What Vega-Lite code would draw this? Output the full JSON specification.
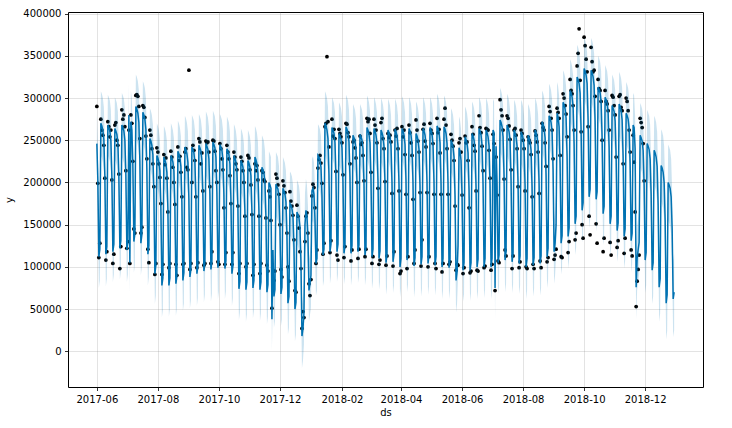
{
"$schema": "https://vega.github.io/schema/vega-lite/v6.json",
"width": 635,
"height": 375,
"autosize": {"type": "none"},
"padding": {"left": 68, "top": 12, "right": 29, "bottom": 41},
"background": "white",
"config": {
  "font": "DejaVu Sans",
  "view": {"stroke": "#000", "strokeWidth": 1},
  "axis": {"labelFont": "DejaVu Sans", "titleFont": "DejaVu Sans", "labelFontSize": 10, "titleFontSize": 10, "titleFontWeight": "normal", "labelColor": "#000", "titleColor": "#000", "tickColor": "#000", "tickSize": 3.5, "tickWidth": 0.8, "domain": false, "gridColor": "#808080", "gridOpacity": 0.22, "gridWidth": 1, "labelOverlap": false, "labelFlush": false}
},
"data": {"values": [
{"ds":"2017-06-01","yhat":246000,"lo":209000,"hi":283000,"y":290000},
{"ds":"2017-06-02","yhat":203000,"lo":166000,"hi":240000,"y":199000},
{"ds":"2017-06-03","yhat":112000,"lo":75000,"hi":149000,"y":111000},
{"ds":"2017-06-04","yhat":121000,"lo":84000,"hi":158000,"y":128000},
{"ds":"2017-06-05","yhat":270000,"lo":232000,"hi":308000,"y":275000},
{"ds":"2017-06-06","yhat":267000,"lo":229000,"hi":305000,"y":262000},
{"ds":"2017-06-07","yhat":262000,"lo":224000,"hi":300000,"y":256000},
{"ds":"2017-06-08","yhat":251000,"lo":213000,"hi":289000,"y":244000},
{"ds":"2017-06-09","yhat":208000,"lo":170000,"hi":246000,"y":205000},
{"ds":"2017-06-10","yhat":115000,"lo":77000,"hi":153000,"y":108000},
{"ds":"2017-06-11","yhat":124000,"lo":86000,"hi":162000,"y":118000},
{"ds":"2017-06-12","yhat":268000,"lo":232000,"hi":304000,"y":272000},
{"ds":"2017-06-13","yhat":265000,"lo":229000,"hi":301000,"y":266000},
{"ds":"2017-06-14","yhat":261000,"lo":225000,"hi":297000,"y":254000},
{"ds":"2017-06-15","yhat":250000,"lo":214000,"hi":286000,"y":262000},
{"ds":"2017-06-16","yhat":208000,"lo":172000,"hi":244000,"y":203000},
{"ds":"2017-06-17","yhat":118000,"lo":82000,"hi":154000,"y":104000},
{"ds":"2017-06-18","yhat":127000,"lo":91000,"hi":163000,"y":115000},
{"ds":"2017-06-19","yhat":264000,"lo":227000,"hi":301000,"y":268000},
{"ds":"2017-06-20","yhat":261000,"lo":224000,"hi":298000,"y":271000},
{"ds":"2017-06-21","yhat":257000,"lo":220000,"hi":294000,"y":250000},
{"ds":"2017-06-22","yhat":247000,"lo":210000,"hi":284000,"y":244000},
{"ds":"2017-06-23","yhat":207000,"lo":170000,"hi":244000,"y":210000},
{"ds":"2017-06-24","yhat":122000,"lo":85000,"hi":159000,"y":98000},
{"ds":"2017-06-25","yhat":131000,"lo":94000,"hi":168000,"y":124000},
{"ds":"2017-06-26","yhat":268000,"lo":230000,"hi":306000,"y":286000},
{"ds":"2017-06-27","yhat":265000,"lo":227000,"hi":303000,"y":275000},
{"ds":"2017-06-28","yhat":261000,"lo":223000,"hi":299000,"y":280000},
{"ds":"2017-06-29","yhat":250000,"lo":212000,"hi":288000,"y":266000},
{"ds":"2017-06-30","yhat":209000,"lo":171000,"hi":247000,"y":214000},
{"ds":"2017-07-01","yhat":120000,"lo":82000,"hi":158000,"y":122000},
{"ds":"2017-07-02","yhat":129000,"lo":91000,"hi":167000,"y":130000},
{"ds":"2017-07-03","yhat":280000,"lo":243000,"hi":317000,"y":262000},
{"ds":"2017-07-04","yhat":105000,"lo":68000,"hi":142000,"y":104000},
{"ds":"2017-07-05","yhat":272000,"lo":235000,"hi":309000,"y":280000},
{"ds":"2017-07-06","yhat":262000,"lo":225000,"hi":299000,"y":270000},
{"ds":"2017-07-07","yhat":220000,"lo":183000,"hi":257000,"y":225000},
{"ds":"2017-07-08","yhat":130000,"lo":93000,"hi":167000,"y":145000},
{"ds":"2017-07-09","yhat":139000,"lo":102000,"hi":176000,"y":140000},
{"ds":"2017-07-10","yhat":290000,"lo":252000,"hi":328000,"y":303000},
{"ds":"2017-07-11","yhat":287000,"lo":249000,"hi":325000,"y":304000},
{"ds":"2017-07-12","yhat":282000,"lo":244000,"hi":320000,"y":302000},
{"ds":"2017-07-13","yhat":271000,"lo":233000,"hi":309000,"y":290000},
{"ds":"2017-07-14","yhat":225000,"lo":187000,"hi":263000,"y":252000},
{"ds":"2017-07-15","yhat":128000,"lo":90000,"hi":166000,"y":140000},
{"ds":"2017-07-16","yhat":138000,"lo":100000,"hi":176000,"y":147000},
{"ds":"2017-07-17","yhat":283000,"lo":246000,"hi":320000,"y":291000},
{"ds":"2017-07-18","yhat":280000,"lo":243000,"hi":317000,"y":289000},
{"ds":"2017-07-19","yhat":275000,"lo":238000,"hi":312000,"y":277000},
{"ds":"2017-07-20","yhat":263000,"lo":226000,"hi":300000,"y":255000},
{"ds":"2017-07-21","yhat":216000,"lo":179000,"hi":253000,"y":228000},
{"ds":"2017-07-22","yhat":115000,"lo":78000,"hi":152000,"y":121000},
{"ds":"2017-07-23","yhat":125000,"lo":88000,"hi":162000,"y":105000},
{"ds":"2017-07-24","yhat":252000,"lo":216000,"hi":288000,"y":262000},
{"ds":"2017-07-25","yhat":249000,"lo":213000,"hi":285000,"y":256000},
{"ds":"2017-07-26","yhat":244000,"lo":208000,"hi":280000,"y":240000},
{"ds":"2017-07-27","yhat":233000,"lo":197000,"hi":269000,"y":222000},
{"ds":"2017-07-28","yhat":188000,"lo":152000,"hi":224000,"y":195000},
{"ds":"2017-07-29","yhat":92000,"lo":56000,"hi":128000,"y":91000},
{"ds":"2017-07-30","yhat":102000,"lo":66000,"hi":138000,"y":104000},
{"ds":"2017-07-31","yhat":232000,"lo":194000,"hi":270000,"y":241000},
{"ds":"2017-08-01","yhat":229000,"lo":191000,"hi":267000,"y":236000},
{"ds":"2017-08-02","yhat":224000,"lo":186000,"hi":262000,"y":222000},
{"ds":"2017-08-03","yhat":214000,"lo":176000,"hi":252000,"y":206000},
{"ds":"2017-08-04","yhat":170000,"lo":132000,"hi":208000,"y":175000},
{"ds":"2017-08-05","yhat":78000,"lo":40000,"hi":116000,"y":91000},
{"ds":"2017-08-06","yhat":87000,"lo":49000,"hi":125000,"y":103000},
{"ds":"2017-08-07","yhat":230000,"lo":193000,"hi":267000,"y":233000},
{"ds":"2017-08-08","yhat":227000,"lo":190000,"hi":264000,"y":221000},
{"ds":"2017-08-09","yhat":222000,"lo":185000,"hi":259000,"y":229000},
{"ds":"2017-08-10","yhat":212000,"lo":175000,"hi":249000,"y":205000},
{"ds":"2017-08-11","yhat":169000,"lo":132000,"hi":206000,"y":165000},
{"ds":"2017-08-12","yhat":78000,"lo":41000,"hi":115000,"y":99000},
{"ds":"2017-08-13","yhat":87000,"lo":50000,"hi":124000,"y":104000},
{"ds":"2017-08-14","yhat":232000,"lo":194000,"hi":270000,"y":237000},
{"ds":"2017-08-15","yhat":229000,"lo":191000,"hi":267000,"y":230000},
{"ds":"2017-08-16","yhat":224000,"lo":186000,"hi":262000,"y":218000},
{"ds":"2017-08-17","yhat":214000,"lo":176000,"hi":252000,"y":200000},
{"ds":"2017-08-18","yhat":171000,"lo":133000,"hi":209000,"y":174000},
{"ds":"2017-08-19","yhat":80000,"lo":42000,"hi":118000,"y":103000},
{"ds":"2017-08-20","yhat":89000,"lo":51000,"hi":127000,"y":90000},
{"ds":"2017-08-21","yhat":237000,"lo":201000,"hi":273000,"y":242000},
{"ds":"2017-08-22","yhat":234000,"lo":198000,"hi":270000,"y":226000},
{"ds":"2017-08-23","yhat":229000,"lo":193000,"hi":265000,"y":231000},
{"ds":"2017-08-24","yhat":219000,"lo":183000,"hi":255000,"y":212000},
{"ds":"2017-08-25","yhat":176000,"lo":140000,"hi":212000,"y":183000},
{"ds":"2017-08-26","yhat":84000,"lo":48000,"hi":120000,"y":103000},
{"ds":"2017-08-27","yhat":93000,"lo":57000,"hi":129000,"y":104000},
{"ds":"2017-08-28","yhat":242000,"lo":205000,"hi":279000,"y":236000},
{"ds":"2017-08-29","yhat":239000,"lo":202000,"hi":276000,"y":240000},
{"ds":"2017-08-30","yhat":234000,"lo":197000,"hi":271000,"y":218000},
{"ds":"2017-08-31","yhat":224000,"lo":187000,"hi":261000,"y":215000},
{"ds":"2017-09-01","yhat":180000,"lo":143000,"hi":217000,"y":333000},
{"ds":"2017-09-02","yhat":88000,"lo":51000,"hi":125000,"y":97000},
{"ds":"2017-09-03","yhat":97000,"lo":60000,"hi":134000,"y":104000},
{"ds":"2017-09-04","yhat":242000,"lo":204000,"hi":280000,"y":200000},
{"ds":"2017-09-05","yhat":239000,"lo":201000,"hi":277000,"y":244000},
{"ds":"2017-09-06","yhat":235000,"lo":197000,"hi":273000,"y":238000},
{"ds":"2017-09-07","yhat":224000,"lo":186000,"hi":262000,"y":226000},
{"ds":"2017-09-08","yhat":182000,"lo":144000,"hi":220000,"y":183000},
{"ds":"2017-09-09","yhat":92000,"lo":54000,"hi":130000,"y":99000},
{"ds":"2017-09-10","yhat":101000,"lo":63000,"hi":139000,"y":105000},
{"ds":"2017-09-11","yhat":244000,"lo":207000,"hi":281000,"y":252000},
{"ds":"2017-09-12","yhat":241000,"lo":204000,"hi":278000,"y":248000},
{"ds":"2017-09-13","yhat":237000,"lo":200000,"hi":274000,"y":222000},
{"ds":"2017-09-14","yhat":226000,"lo":189000,"hi":263000,"y":235000},
{"ds":"2017-09-15","yhat":184000,"lo":147000,"hi":221000,"y":190000},
{"ds":"2017-09-16","yhat":95000,"lo":58000,"hi":132000,"y":102000},
{"ds":"2017-09-17","yhat":104000,"lo":67000,"hi":141000,"y":104000},
{"ds":"2017-09-18","yhat":246000,"lo":208000,"hi":284000,"y":249000},
{"ds":"2017-09-19","yhat":243000,"lo":205000,"hi":281000,"y":247000},
{"ds":"2017-09-20","yhat":239000,"lo":201000,"hi":277000,"y":248000},
{"ds":"2017-09-21","yhat":228000,"lo":190000,"hi":266000,"y":236000},
{"ds":"2017-09-22","yhat":186000,"lo":148000,"hi":224000,"y":195000},
{"ds":"2017-09-23","yhat":97000,"lo":59000,"hi":135000,"y":104000},
{"ds":"2017-09-24","yhat":106000,"lo":68000,"hi":144000,"y":118000},
{"ds":"2017-09-25","yhat":248000,"lo":211000,"hi":285000,"y":250000},
{"ds":"2017-09-26","yhat":245000,"lo":208000,"hi":282000,"y":249000},
{"ds":"2017-09-27","yhat":241000,"lo":204000,"hi":278000,"y":237000},
{"ds":"2017-09-28","yhat":230000,"lo":193000,"hi":267000,"y":214000},
{"ds":"2017-09-29","yhat":188000,"lo":151000,"hi":225000,"y":200000},
{"ds":"2017-09-30","yhat":99000,"lo":62000,"hi":136000,"y":106000},
{"ds":"2017-10-01","yhat":108000,"lo":71000,"hi":145000,"y":103000},
{"ds":"2017-10-02","yhat":245000,"lo":209000,"hi":281000,"y":246000},
{"ds":"2017-10-03","yhat":242000,"lo":206000,"hi":278000,"y":240000},
{"ds":"2017-10-04","yhat":238000,"lo":202000,"hi":274000,"y":228000},
{"ds":"2017-10-05","yhat":227000,"lo":191000,"hi":263000,"y":215000},
{"ds":"2017-10-06","yhat":186000,"lo":150000,"hi":222000,"y":170000},
{"ds":"2017-10-07","yhat":98000,"lo":62000,"hi":134000,"y":103000},
{"ds":"2017-10-08","yhat":107000,"lo":71000,"hi":143000,"y":117000},
{"ds":"2017-10-09","yhat":240000,"lo":202000,"hi":278000,"y":244000},
{"ds":"2017-10-10","yhat":237000,"lo":199000,"hi":275000,"y":236000},
{"ds":"2017-10-11","yhat":233000,"lo":195000,"hi":271000,"y":228000},
{"ds":"2017-10-12","yhat":222000,"lo":184000,"hi":260000,"y":208000},
{"ds":"2017-10-13","yhat":181000,"lo":143000,"hi":219000,"y":175000},
{"ds":"2017-10-14","yhat":92000,"lo":54000,"hi":130000,"y":103000},
{"ds":"2017-10-15","yhat":101000,"lo":63000,"hi":139000,"y":117000},
{"ds":"2017-10-16","yhat":232000,"lo":195000,"hi":269000,"y":236000},
{"ds":"2017-10-17","yhat":229000,"lo":192000,"hi":266000,"y":230000},
{"ds":"2017-10-18","yhat":224000,"lo":187000,"hi":261000,"y":222000},
{"ds":"2017-10-19","yhat":213000,"lo":176000,"hi":250000,"y":215000},
{"ds":"2017-10-20","yhat":169000,"lo":132000,"hi":206000,"y":172000},
{"ds":"2017-10-21","yhat":74000,"lo":37000,"hi":111000,"y":92000},
{"ds":"2017-10-22","yhat":83000,"lo":46000,"hi":120000,"y":104000},
{"ds":"2017-10-23","yhat":226000,"lo":188000,"hi":264000,"y":230000},
{"ds":"2017-10-24","yhat":223000,"lo":185000,"hi":261000,"y":225000},
{"ds":"2017-10-25","yhat":218000,"lo":180000,"hi":256000,"y":214000},
{"ds":"2017-10-26","yhat":208000,"lo":170000,"hi":246000,"y":200000},
{"ds":"2017-10-27","yhat":165000,"lo":127000,"hi":203000,"y":160000},
{"ds":"2017-10-28","yhat":73000,"lo":35000,"hi":111000,"y":100000},
{"ds":"2017-10-29","yhat":82000,"lo":44000,"hi":120000,"y":104000},
{"ds":"2017-10-30","yhat":226000,"lo":190000,"hi":262000,"y":232000},
{"ds":"2017-10-31","yhat":223000,"lo":187000,"hi":259000,"y":229000},
{"ds":"2017-11-01","yhat":218000,"lo":182000,"hi":254000,"y":215000},
{"ds":"2017-11-02","yhat":208000,"lo":172000,"hi":244000,"y":197000},
{"ds":"2017-11-03","yhat":166000,"lo":130000,"hi":202000,"y":162000},
{"ds":"2017-11-04","yhat":75000,"lo":39000,"hi":111000,"y":90000},
{"ds":"2017-11-05","yhat":84000,"lo":48000,"hi":120000,"y":103000},
{"ds":"2017-11-06","yhat":230000,"lo":193000,"hi":267000,"y":222000},
{"ds":"2017-11-07","yhat":227000,"lo":190000,"hi":264000,"y":214000},
{"ds":"2017-11-08","yhat":222000,"lo":185000,"hi":259000,"y":220000},
{"ds":"2017-11-09","yhat":211000,"lo":174000,"hi":248000,"y":203000},
{"ds":"2017-11-10","yhat":167000,"lo":130000,"hi":204000,"y":160000},
{"ds":"2017-11-11","yhat":73000,"lo":36000,"hi":110000,"y":92000},
{"ds":"2017-11-12","yhat":82000,"lo":45000,"hi":119000,"y":104000},
{"ds":"2017-11-13","yhat":218000,"lo":180000,"hi":256000,"y":214000},
{"ds":"2017-11-14","yhat":215000,"lo":177000,"hi":253000,"y":212000},
{"ds":"2017-11-15","yhat":211000,"lo":173000,"hi":249000,"y":203000},
{"ds":"2017-11-16","yhat":200000,"lo":162000,"hi":238000,"y":201000},
{"ds":"2017-11-17","yhat":159000,"lo":121000,"hi":197000,"y":158000},
{"ds":"2017-11-18","yhat":70000,"lo":32000,"hi":108000,"y":102000},
{"ds":"2017-11-19","yhat":79000,"lo":41000,"hi":117000,"y":95000},
{"ds":"2017-11-20","yhat":200000,"lo":163000,"hi":237000,"y":190000},
{"ds":"2017-11-21","yhat":197000,"lo":160000,"hi":234000,"y":183000},
{"ds":"2017-11-22","yhat":193000,"lo":156000,"hi":230000,"y":155000},
{"ds":"2017-11-23","yhat":38000,"lo":1000,"hi":75000,"y":51000},
{"ds":"2017-11-24","yhat":120000,"lo":83000,"hi":157000,"y":96000},
{"ds":"2017-11-25","yhat":65000,"lo":28000,"hi":102000,"y":84000},
{"ds":"2017-11-26","yhat":73000,"lo":36000,"hi":110000,"y":95000},
{"ds":"2017-11-27","yhat":198000,"lo":160000,"hi":236000,"y":210000},
{"ds":"2017-11-28","yhat":195000,"lo":157000,"hi":233000,"y":205000},
{"ds":"2017-11-29","yhat":192000,"lo":154000,"hi":230000,"y":197000},
{"ds":"2017-11-30","yhat":182000,"lo":144000,"hi":220000,"y":186000},
{"ds":"2017-12-01","yhat":146000,"lo":108000,"hi":184000,"y":150000},
{"ds":"2017-12-02","yhat":68000,"lo":30000,"hi":106000,"y":97000},
{"ds":"2017-12-03","yhat":76000,"lo":38000,"hi":114000,"y":88000},
{"ds":"2017-12-04","yhat":193000,"lo":156000,"hi":230000,"y":202000},
{"ds":"2017-12-05","yhat":190000,"lo":153000,"hi":227000,"y":196000},
{"ds":"2017-12-06","yhat":186000,"lo":149000,"hi":223000,"y":188000},
{"ds":"2017-12-07","yhat":177000,"lo":140000,"hi":214000,"y":170000},
{"ds":"2017-12-08","yhat":139000,"lo":102000,"hi":176000,"y":140000},
{"ds":"2017-12-09","yhat":57000,"lo":20000,"hi":94000,"y":100000},
{"ds":"2017-12-10","yhat":65000,"lo":28000,"hi":102000,"y":83000},
{"ds":"2017-12-11","yhat":175000,"lo":137000,"hi":213000,"y":189000},
{"ds":"2017-12-12","yhat":173000,"lo":135000,"hi":211000,"y":178000},
{"ds":"2017-12-13","yhat":169000,"lo":131000,"hi":207000,"y":172000},
{"ds":"2017-12-14","yhat":160000,"lo":122000,"hi":198000,"y":161000},
{"ds":"2017-12-15","yhat":125000,"lo":87000,"hi":163000,"y":132000},
{"ds":"2017-12-16","yhat":50000,"lo":12000,"hi":88000,"y":72000},
{"ds":"2017-12-17","yhat":58000,"lo":20000,"hi":96000,"y":70000},
{"ds":"2017-12-18","yhat":165000,"lo":127000,"hi":203000,"y":173000},
{"ds":"2017-12-19","yhat":162000,"lo":124000,"hi":200000,"y":160000},
{"ds":"2017-12-20","yhat":158000,"lo":120000,"hi":196000,"y":146000},
{"ds":"2017-12-21","yhat":147000,"lo":109000,"hi":185000,"y":118000},
{"ds":"2017-12-22","yhat":106000,"lo":68000,"hi":144000,"y":98000},
{"ds":"2017-12-23","yhat":18000,"lo":-20000,"hi":56000,"y":27000},
{"ds":"2017-12-24","yhat":27000,"lo":-11000,"hi":65000,"y":47000},
{"ds":"2017-12-25","yhat":45000,"lo":8000,"hi":82000,"y":40000},
{"ds":"2017-12-26","yhat":150000,"lo":113000,"hi":187000,"y":130000},
{"ds":"2017-12-27","yhat":167000,"lo":130000,"hi":204000,"y":160000},
{"ds":"2017-12-28","yhat":160000,"lo":123000,"hi":197000,"y":164000},
{"ds":"2017-12-29","yhat":135000,"lo":98000,"hi":172000,"y":140000},
{"ds":"2017-12-30","yhat":72000,"lo":35000,"hi":109000,"y":80000},
{"ds":"2017-12-31","yhat":80000,"lo":43000,"hi":117000,"y":66000},
{"ds":"2018-01-01","yhat":90000,"lo":52000,"hi":128000,"y":85000},
{"ds":"2018-01-02","yhat":190000,"lo":152000,"hi":228000,"y":184000},
{"ds":"2018-01-03","yhat":193000,"lo":155000,"hi":231000,"y":198000},
{"ds":"2018-01-04","yhat":186000,"lo":148000,"hi":224000,"y":194000},
{"ds":"2018-01-05","yhat":157000,"lo":119000,"hi":195000,"y":170000},
{"ds":"2018-01-06","yhat":104000,"lo":66000,"hi":142000,"y":104000},
{"ds":"2018-01-07","yhat":110000,"lo":72000,"hi":148000,"y":120000},
{"ds":"2018-01-08","yhat":232000,"lo":195000,"hi":269000,"y":217000},
{"ds":"2018-01-09","yhat":230000,"lo":193000,"hi":267000,"y":227000},
{"ds":"2018-01-10","yhat":226000,"lo":189000,"hi":263000,"y":232000},
{"ds":"2018-01-11","yhat":218000,"lo":181000,"hi":255000,"y":223000},
{"ds":"2018-01-12","yhat":185000,"lo":148000,"hi":222000,"y":199000},
{"ds":"2018-01-13","yhat":114000,"lo":77000,"hi":151000,"y":115000},
{"ds":"2018-01-14","yhat":121000,"lo":84000,"hi":158000,"y":128000},
{"ds":"2018-01-15","yhat":270000,"lo":232000,"hi":308000,"y":266000},
{"ds":"2018-01-16","yhat":267000,"lo":229000,"hi":305000,"y":270000},
{"ds":"2018-01-17","yhat":262000,"lo":224000,"hi":300000,"y":349000},
{"ds":"2018-01-18","yhat":252000,"lo":214000,"hi":290000,"y":272000},
{"ds":"2018-01-19","yhat":209000,"lo":171000,"hi":247000,"y":242000},
{"ds":"2018-01-20","yhat":118000,"lo":80000,"hi":156000,"y":117000},
{"ds":"2018-01-21","yhat":127000,"lo":89000,"hi":165000,"y":131000},
{"ds":"2018-01-22","yhat":265000,"lo":229000,"hi":301000,"y":275000},
{"ds":"2018-01-23","yhat":262000,"lo":226000,"hi":298000,"y":255000},
{"ds":"2018-01-24","yhat":258000,"lo":222000,"hi":294000,"y":263000},
{"ds":"2018-01-25","yhat":247000,"lo":211000,"hi":283000,"y":252000},
{"ds":"2018-01-26","yhat":206000,"lo":170000,"hi":242000,"y":213000},
{"ds":"2018-01-27","yhat":118000,"lo":82000,"hi":154000,"y":114000},
{"ds":"2018-01-28","yhat":127000,"lo":91000,"hi":163000,"y":108000},
{"ds":"2018-01-29","yhat":258000,"lo":221000,"hi":295000,"y":263000},
{"ds":"2018-01-30","yhat":255000,"lo":218000,"hi":292000,"y":258000},
{"ds":"2018-01-31","yhat":251000,"lo":214000,"hi":288000,"y":254000},
{"ds":"2018-02-01","yhat":241000,"lo":204000,"hi":278000,"y":247000},
{"ds":"2018-02-02","yhat":201000,"lo":164000,"hi":238000,"y":209000},
{"ds":"2018-02-03","yhat":116000,"lo":79000,"hi":153000,"y":111000},
{"ds":"2018-02-04","yhat":125000,"lo":88000,"hi":162000,"y":124000},
{"ds":"2018-02-05","yhat":266000,"lo":228000,"hi":304000,"y":270000},
{"ds":"2018-02-06","yhat":263000,"lo":225000,"hi":301000,"y":269000},
{"ds":"2018-02-07","yhat":259000,"lo":221000,"hi":297000,"y":259000},
{"ds":"2018-02-08","yhat":248000,"lo":210000,"hi":286000,"y":254000},
{"ds":"2018-02-09","yhat":206000,"lo":168000,"hi":244000,"y":222000},
{"ds":"2018-02-10","yhat":116000,"lo":78000,"hi":154000,"y":107000},
{"ds":"2018-02-11","yhat":125000,"lo":87000,"hi":163000,"y":120000},
{"ds":"2018-02-12","yhat":256000,"lo":219000,"hi":293000,"y":248000},
{"ds":"2018-02-13","yhat":253000,"lo":216000,"hi":290000,"y":250000},
{"ds":"2018-02-14","yhat":249000,"lo":212000,"hi":286000,"y":241000},
{"ds":"2018-02-15","yhat":239000,"lo":202000,"hi":276000,"y":229000},
{"ds":"2018-02-16","yhat":201000,"lo":164000,"hi":238000,"y":200000},
{"ds":"2018-02-17","yhat":118000,"lo":81000,"hi":155000,"y":110000},
{"ds":"2018-02-18","yhat":126000,"lo":89000,"hi":163000,"y":121000},
{"ds":"2018-02-19","yhat":257000,"lo":221000,"hi":293000,"y":255000},
{"ds":"2018-02-20","yhat":254000,"lo":218000,"hi":290000,"y":245000},
{"ds":"2018-02-21","yhat":250000,"lo":214000,"hi":286000,"y":247000},
{"ds":"2018-02-22","yhat":240000,"lo":204000,"hi":276000,"y":232000},
{"ds":"2018-02-23","yhat":200000,"lo":164000,"hi":236000,"y":202000},
{"ds":"2018-02-24","yhat":114000,"lo":78000,"hi":150000,"y":112000},
{"ds":"2018-02-25","yhat":123000,"lo":87000,"hi":159000,"y":121000},
{"ds":"2018-02-26","yhat":265000,"lo":227000,"hi":303000,"y":276000},
{"ds":"2018-02-27","yhat":262000,"lo":224000,"hi":300000,"y":272000},
{"ds":"2018-02-28","yhat":257000,"lo":219000,"hi":295000,"y":275000},
{"ds":"2018-03-01","yhat":247000,"lo":209000,"hi":285000,"y":258000},
{"ds":"2018-03-02","yhat":204000,"lo":166000,"hi":242000,"y":212000},
{"ds":"2018-03-03","yhat":112000,"lo":74000,"hi":150000,"y":104000},
{"ds":"2018-03-04","yhat":121000,"lo":83000,"hi":159000,"y":112000},
{"ds":"2018-03-05","yhat":264000,"lo":227000,"hi":301000,"y":275000},
{"ds":"2018-03-06","yhat":261000,"lo":224000,"hi":298000,"y":268000},
{"ds":"2018-03-07","yhat":256000,"lo":219000,"hi":293000,"y":262000},
{"ds":"2018-03-08","yhat":246000,"lo":209000,"hi":283000,"y":247000},
{"ds":"2018-03-09","yhat":202000,"lo":165000,"hi":239000,"y":193000},
{"ds":"2018-03-10","yhat":110000,"lo":73000,"hi":147000,"y":103000},
{"ds":"2018-03-11","yhat":119000,"lo":82000,"hi":156000,"y":108000},
{"ds":"2018-03-12","yhat":262000,"lo":224000,"hi":300000,"y":271000},
{"ds":"2018-03-13","yhat":259000,"lo":221000,"hi":297000,"y":276000},
{"ds":"2018-03-14","yhat":254000,"lo":216000,"hi":292000,"y":252000},
{"ds":"2018-03-15","yhat":243000,"lo":205000,"hi":281000,"y":240000},
{"ds":"2018-03-16","yhat":199000,"lo":161000,"hi":237000,"y":201000},
{"ds":"2018-03-17","yhat":105000,"lo":67000,"hi":143000,"y":102000},
{"ds":"2018-03-18","yhat":114000,"lo":76000,"hi":152000,"y":113000},
{"ds":"2018-03-19","yhat":262000,"lo":225000,"hi":299000,"y":258000},
{"ds":"2018-03-20","yhat":259000,"lo":222000,"hi":296000,"y":253000},
{"ds":"2018-03-21","yhat":254000,"lo":217000,"hi":291000,"y":256000},
{"ds":"2018-03-22","yhat":243000,"lo":206000,"hi":280000,"y":248000},
{"ds":"2018-03-23","yhat":200000,"lo":163000,"hi":237000,"y":187000},
{"ds":"2018-03-24","yhat":106000,"lo":69000,"hi":143000,"y":101000},
{"ds":"2018-03-25","yhat":115000,"lo":78000,"hi":152000,"y":118000},
{"ds":"2018-03-26","yhat":263000,"lo":227000,"hi":299000,"y":262000},
{"ds":"2018-03-27","yhat":260000,"lo":224000,"hi":296000,"y":255000},
{"ds":"2018-03-28","yhat":255000,"lo":219000,"hi":291000,"y":264000},
{"ds":"2018-03-29","yhat":243000,"lo":207000,"hi":279000,"y":240000},
{"ds":"2018-03-30","yhat":198000,"lo":162000,"hi":234000,"y":190000},
{"ds":"2018-03-31","yhat":100000,"lo":64000,"hi":136000,"y":92000},
{"ds":"2018-04-01","yhat":110000,"lo":74000,"hi":146000,"y":95000},
{"ds":"2018-04-02","yhat":264000,"lo":226000,"hi":302000,"y":266000},
{"ds":"2018-04-03","yhat":261000,"lo":223000,"hi":299000,"y":254000},
{"ds":"2018-04-04","yhat":256000,"lo":218000,"hi":294000,"y":262000},
{"ds":"2018-04-05","yhat":245000,"lo":207000,"hi":283000,"y":233000},
{"ds":"2018-04-06","yhat":202000,"lo":164000,"hi":240000,"y":186000},
{"ds":"2018-04-07","yhat":108000,"lo":70000,"hi":146000,"y":98000},
{"ds":"2018-04-08","yhat":117000,"lo":79000,"hi":155000,"y":112000},
{"ds":"2018-04-09","yhat":264000,"lo":227000,"hi":301000,"y":268000},
{"ds":"2018-04-10","yhat":261000,"lo":224000,"hi":298000,"y":259000},
{"ds":"2018-04-11","yhat":256000,"lo":219000,"hi":293000,"y":247000},
{"ds":"2018-04-12","yhat":244000,"lo":207000,"hi":281000,"y":232000},
{"ds":"2018-04-13","yhat":199000,"lo":162000,"hi":236000,"y":180000},
{"ds":"2018-04-14","yhat":101000,"lo":64000,"hi":138000,"y":104000},
{"ds":"2018-04-15","yhat":111000,"lo":74000,"hi":148000,"y":120000},
{"ds":"2018-04-16","yhat":258000,"lo":220000,"hi":296000,"y":274000},
{"ds":"2018-04-17","yhat":255000,"lo":217000,"hi":293000,"y":262000},
{"ds":"2018-04-18","yhat":250000,"lo":212000,"hi":288000,"y":249000},
{"ds":"2018-04-19","yhat":239000,"lo":201000,"hi":277000,"y":236000},
{"ds":"2018-04-20","yhat":196000,"lo":158000,"hi":234000,"y":188000},
{"ds":"2018-04-21","yhat":103000,"lo":65000,"hi":141000,"y":101000},
{"ds":"2018-04-22","yhat":112000,"lo":74000,"hi":150000,"y":132000},
{"ds":"2018-04-23","yhat":264000,"lo":227000,"hi":301000,"y":263000},
{"ds":"2018-04-24","yhat":261000,"lo":224000,"hi":298000,"y":269000},
{"ds":"2018-04-25","yhat":256000,"lo":219000,"hi":293000,"y":249000},
{"ds":"2018-04-26","yhat":245000,"lo":208000,"hi":282000,"y":242000},
{"ds":"2018-04-27","yhat":200000,"lo":163000,"hi":237000,"y":188000},
{"ds":"2018-04-28","yhat":104000,"lo":67000,"hi":141000,"y":100000},
{"ds":"2018-04-29","yhat":114000,"lo":77000,"hi":151000,"y":112000},
{"ds":"2018-04-30","yhat":265000,"lo":229000,"hi":301000,"y":270000},
{"ds":"2018-05-01","yhat":262000,"lo":226000,"hi":298000,"y":262000},
{"ds":"2018-05-02","yhat":257000,"lo":221000,"hi":293000,"y":258000},
{"ds":"2018-05-03","yhat":245000,"lo":209000,"hi":281000,"y":246000},
{"ds":"2018-05-04","yhat":200000,"lo":164000,"hi":236000,"y":186000},
{"ds":"2018-05-05","yhat":102000,"lo":66000,"hi":138000,"y":104000},
{"ds":"2018-05-06","yhat":112000,"lo":76000,"hi":148000,"y":98000},
{"ds":"2018-05-07","yhat":267000,"lo":229000,"hi":305000,"y":276000},
{"ds":"2018-05-08","yhat":264000,"lo":226000,"hi":302000,"y":259000},
{"ds":"2018-05-09","yhat":259000,"lo":221000,"hi":297000,"y":263000},
{"ds":"2018-05-10","yhat":247000,"lo":209000,"hi":285000,"y":235000},
{"ds":"2018-05-11","yhat":200000,"lo":162000,"hi":238000,"y":186000},
{"ds":"2018-05-12","yhat":100000,"lo":62000,"hi":138000,"y":94000},
{"ds":"2018-05-13","yhat":110000,"lo":72000,"hi":148000,"y":104000},
{"ds":"2018-05-14","yhat":266000,"lo":229000,"hi":303000,"y":275000},
{"ds":"2018-05-15","yhat":263000,"lo":226000,"hi":300000,"y":288000},
{"ds":"2018-05-16","yhat":258000,"lo":221000,"hi":295000,"y":268000},
{"ds":"2018-05-17","yhat":246000,"lo":209000,"hi":283000,"y":240000},
{"ds":"2018-05-18","yhat":199000,"lo":162000,"hi":236000,"y":186000},
{"ds":"2018-05-19","yhat":99000,"lo":62000,"hi":136000,"y":103000},
{"ds":"2018-05-20","yhat":109000,"lo":72000,"hi":146000,"y":106000},
{"ds":"2018-05-21","yhat":250000,"lo":212000,"hi":288000,"y":257000},
{"ds":"2018-05-22","yhat":247000,"lo":209000,"hi":285000,"y":250000},
{"ds":"2018-05-23","yhat":242000,"lo":204000,"hi":280000,"y":243000},
{"ds":"2018-05-24","yhat":230000,"lo":192000,"hi":268000,"y":226000},
{"ds":"2018-05-25","yhat":184000,"lo":146000,"hi":222000,"y":172000},
{"ds":"2018-05-26","yhat":84000,"lo":46000,"hi":122000,"y":96000},
{"ds":"2018-05-27","yhat":94000,"lo":56000,"hi":132000,"y":103000},
{"ds":"2018-05-28","yhat":125000,"lo":88000,"hi":162000,"y":102000},
{"ds":"2018-05-29","yhat":241000,"lo":204000,"hi":278000,"y":247000},
{"ds":"2018-05-30","yhat":237000,"lo":200000,"hi":274000,"y":252000},
{"ds":"2018-05-31","yhat":226000,"lo":189000,"hi":263000,"y":236000},
{"ds":"2018-06-01","yhat":185000,"lo":148000,"hi":222000,"y":185000},
{"ds":"2018-06-02","yhat":96000,"lo":59000,"hi":133000,"y":92000},
{"ds":"2018-06-03","yhat":105000,"lo":68000,"hi":142000,"y":99000},
{"ds":"2018-06-04","yhat":254000,"lo":218000,"hi":290000,"y":255000},
{"ds":"2018-06-05","yhat":251000,"lo":215000,"hi":287000,"y":247000},
{"ds":"2018-06-06","yhat":246000,"lo":210000,"hi":282000,"y":248000},
{"ds":"2018-06-07","yhat":235000,"lo":199000,"hi":271000,"y":226000},
{"ds":"2018-06-08","yhat":191000,"lo":155000,"hi":227000,"y":170000},
{"ds":"2018-06-09","yhat":96000,"lo":60000,"hi":132000,"y":93000},
{"ds":"2018-06-10","yhat":105000,"lo":69000,"hi":141000,"y":95000},
{"ds":"2018-06-11","yhat":258000,"lo":220000,"hi":296000,"y":266000},
{"ds":"2018-06-12","yhat":255000,"lo":217000,"hi":293000,"y":257000},
{"ds":"2018-06-13","yhat":250000,"lo":212000,"hi":288000,"y":244000},
{"ds":"2018-06-14","yhat":239000,"lo":201000,"hi":277000,"y":237000},
{"ds":"2018-06-15","yhat":195000,"lo":157000,"hi":233000,"y":190000},
{"ds":"2018-06-16","yhat":100000,"lo":62000,"hi":138000,"y":96000},
{"ds":"2018-06-17","yhat":109000,"lo":71000,"hi":147000,"y":95000},
{"ds":"2018-06-18","yhat":264000,"lo":227000,"hi":301000,"y":279000},
{"ds":"2018-06-19","yhat":261000,"lo":224000,"hi":298000,"y":265000},
{"ds":"2018-06-20","yhat":256000,"lo":219000,"hi":293000,"y":259000},
{"ds":"2018-06-21","yhat":244000,"lo":207000,"hi":281000,"y":243000},
{"ds":"2018-06-22","yhat":198000,"lo":161000,"hi":235000,"y":214000},
{"ds":"2018-06-23","yhat":100000,"lo":63000,"hi":137000,"y":99000},
{"ds":"2018-06-24","yhat":110000,"lo":73000,"hi":147000,"y":101000},
{"ds":"2018-06-25","yhat":262000,"lo":224000,"hi":300000,"y":264000},
{"ds":"2018-06-26","yhat":259000,"lo":221000,"hi":297000,"y":263000},
{"ds":"2018-06-27","yhat":254000,"lo":216000,"hi":292000,"y":262000},
{"ds":"2018-06-28","yhat":243000,"lo":205000,"hi":281000,"y":238000},
{"ds":"2018-06-29","yhat":197000,"lo":159000,"hi":235000,"y":205000},
{"ds":"2018-06-30","yhat":100000,"lo":62000,"hi":138000,"y":96000},
{"ds":"2018-07-01","yhat":110000,"lo":72000,"hi":148000,"y":103000},
{"ds":"2018-07-02","yhat":262000,"lo":225000,"hi":299000,"y":257000},
{"ds":"2018-07-03","yhat":259000,"lo":222000,"hi":296000,"y":246000},
{"ds":"2018-07-04","yhat":75000,"lo":38000,"hi":112000,"y":72000},
{"ds":"2018-07-05","yhat":243000,"lo":206000,"hi":280000,"y":230000},
{"ds":"2018-07-06","yhat":199000,"lo":162000,"hi":236000,"y":185000},
{"ds":"2018-07-07","yhat":105000,"lo":68000,"hi":142000,"y":107000},
{"ds":"2018-07-08","yhat":114000,"lo":77000,"hi":151000,"y":105000},
{"ds":"2018-07-09","yhat":274000,"lo":236000,"hi":312000,"y":298000},
{"ds":"2018-07-10","yhat":271000,"lo":233000,"hi":309000,"y":286000},
{"ds":"2018-07-11","yhat":266000,"lo":228000,"hi":304000,"y":279000},
{"ds":"2018-07-12","yhat":254000,"lo":216000,"hi":292000,"y":262000},
{"ds":"2018-07-13","yhat":208000,"lo":170000,"hi":246000,"y":204000},
{"ds":"2018-07-14","yhat":108000,"lo":70000,"hi":146000,"y":120000},
{"ds":"2018-07-15","yhat":118000,"lo":80000,"hi":156000,"y":113000},
{"ds":"2018-07-16","yhat":268000,"lo":231000,"hi":305000,"y":279000},
{"ds":"2018-07-17","yhat":265000,"lo":228000,"hi":302000,"y":276000},
{"ds":"2018-07-18","yhat":260000,"lo":223000,"hi":297000,"y":267000},
{"ds":"2018-07-19","yhat":249000,"lo":212000,"hi":286000,"y":251000},
{"ds":"2018-07-20","yhat":203000,"lo":166000,"hi":240000,"y":215000},
{"ds":"2018-07-21","yhat":106000,"lo":69000,"hi":143000,"y":98000},
{"ds":"2018-07-22","yhat":116000,"lo":79000,"hi":153000,"y":113000},
{"ds":"2018-07-23","yhat":262000,"lo":226000,"hi":298000,"y":262000},
{"ds":"2018-07-24","yhat":259000,"lo":223000,"hi":295000,"y":264000},
{"ds":"2018-07-25","yhat":254000,"lo":218000,"hi":290000,"y":256000},
{"ds":"2018-07-26","yhat":243000,"lo":207000,"hi":279000,"y":240000},
{"ds":"2018-07-27","yhat":199000,"lo":163000,"hi":235000,"y":195000},
{"ds":"2018-07-28","yhat":104000,"lo":68000,"hi":140000,"y":99000},
{"ds":"2018-07-29","yhat":113000,"lo":77000,"hi":149000,"y":106000},
{"ds":"2018-07-30","yhat":260000,"lo":222000,"hi":298000,"y":262000},
{"ds":"2018-07-31","yhat":257000,"lo":219000,"hi":295000,"y":258000},
{"ds":"2018-08-01","yhat":252000,"lo":214000,"hi":290000,"y":250000},
{"ds":"2018-08-02","yhat":241000,"lo":203000,"hi":279000,"y":240000},
{"ds":"2018-08-03","yhat":196000,"lo":158000,"hi":234000,"y":190000},
{"ds":"2018-08-04","yhat":100000,"lo":62000,"hi":138000,"y":100000},
{"ds":"2018-08-05","yhat":110000,"lo":72000,"hi":148000,"y":98000},
{"ds":"2018-08-06","yhat":256000,"lo":219000,"hi":293000,"y":254000},
{"ds":"2018-08-07","yhat":253000,"lo":216000,"hi":290000,"y":250000},
{"ds":"2018-08-08","yhat":248000,"lo":211000,"hi":285000,"y":247000},
{"ds":"2018-08-09","yhat":238000,"lo":201000,"hi":275000,"y":233000},
{"ds":"2018-08-10","yhat":194000,"lo":157000,"hi":231000,"y":183000},
{"ds":"2018-08-11","yhat":102000,"lo":65000,"hi":139000,"y":103000},
{"ds":"2018-08-12","yhat":111000,"lo":74000,"hi":148000,"y":98000},
{"ds":"2018-08-13","yhat":262000,"lo":224000,"hi":300000,"y":261000},
{"ds":"2018-08-14","yhat":259000,"lo":221000,"hi":297000,"y":256000},
{"ds":"2018-08-15","yhat":254000,"lo":216000,"hi":292000,"y":248000},
{"ds":"2018-08-16","yhat":243000,"lo":205000,"hi":281000,"y":236000},
{"ds":"2018-08-17","yhat":199000,"lo":161000,"hi":237000,"y":187000},
{"ds":"2018-08-18","yhat":104000,"lo":66000,"hi":142000,"y":107000},
{"ds":"2018-08-19","yhat":113000,"lo":75000,"hi":151000,"y":99000},
{"ds":"2018-08-20","yhat":272000,"lo":235000,"hi":309000,"y":270000},
{"ds":"2018-08-21","yhat":269000,"lo":232000,"hi":306000,"y":265000},
{"ds":"2018-08-22","yhat":264000,"lo":227000,"hi":301000,"y":262000},
{"ds":"2018-08-23","yhat":253000,"lo":216000,"hi":290000,"y":247000},
{"ds":"2018-08-24","yhat":208000,"lo":171000,"hi":245000,"y":219000},
{"ds":"2018-08-25","yhat":112000,"lo":75000,"hi":149000,"y":106000},
{"ds":"2018-08-26","yhat":122000,"lo":85000,"hi":159000,"y":111000},
{"ds":"2018-08-27","yhat":279000,"lo":241000,"hi":317000,"y":290000},
{"ds":"2018-08-28","yhat":276000,"lo":238000,"hi":314000,"y":284000},
{"ds":"2018-08-29","yhat":271000,"lo":233000,"hi":309000,"y":276000},
{"ds":"2018-08-30","yhat":260000,"lo":222000,"hi":298000,"y":262000},
{"ds":"2018-08-31","yhat":215000,"lo":177000,"hi":253000,"y":228000},
{"ds":"2018-09-01","yhat":118000,"lo":80000,"hi":156000,"y":109000},
{"ds":"2018-09-02","yhat":128000,"lo":90000,"hi":166000,"y":114000},
{"ds":"2018-09-03","yhat":150000,"lo":113000,"hi":187000,"y":121000},
{"ds":"2018-09-04","yhat":282000,"lo":245000,"hi":319000,"y":288000},
{"ds":"2018-09-05","yhat":277000,"lo":240000,"hi":314000,"y":283000},
{"ds":"2018-09-06","yhat":266000,"lo":229000,"hi":303000,"y":276000},
{"ds":"2018-09-07","yhat":222000,"lo":185000,"hi":259000,"y":232000},
{"ds":"2018-09-08","yhat":128000,"lo":91000,"hi":165000,"y":112000},
{"ds":"2018-09-09","yhat":137000,"lo":100000,"hi":174000,"y":111000},
{"ds":"2018-09-10","yhat":295000,"lo":257000,"hi":333000,"y":305000},
{"ds":"2018-09-11","yhat":292000,"lo":254000,"hi":330000,"y":300000},
{"ds":"2018-09-12","yhat":287000,"lo":249000,"hi":325000,"y":291000},
{"ds":"2018-09-13","yhat":276000,"lo":238000,"hi":314000,"y":281000},
{"ds":"2018-09-14","yhat":231000,"lo":193000,"hi":269000,"y":254000},
{"ds":"2018-09-15","yhat":136000,"lo":98000,"hi":174000,"y":117000},
{"ds":"2018-09-16","yhat":146000,"lo":108000,"hi":184000,"y":130000},
{"ds":"2018-09-17","yhat":309000,"lo":272000,"hi":346000,"y":322000},
{"ds":"2018-09-18","yhat":306000,"lo":269000,"hi":343000,"y":309000},
{"ds":"2018-09-19","yhat":301000,"lo":264000,"hi":338000,"y":305000},
{"ds":"2018-09-20","yhat":290000,"lo":253000,"hi":327000,"y":291000},
{"ds":"2018-09-21","yhat":246000,"lo":209000,"hi":283000,"y":262000},
{"ds":"2018-09-22","yhat":151000,"lo":114000,"hi":188000,"y":132000},
{"ds":"2018-09-23","yhat":160000,"lo":123000,"hi":197000,"y":140000},
{"ds":"2018-09-24","yhat":325000,"lo":287000,"hi":363000,"y":338000},
{"ds":"2018-09-25","yhat":322000,"lo":284000,"hi":360000,"y":353000},
{"ds":"2018-09-26","yhat":317000,"lo":279000,"hi":355000,"y":382000},
{"ds":"2018-09-27","yhat":306000,"lo":268000,"hi":344000,"y":321000},
{"ds":"2018-09-28","yhat":262000,"lo":224000,"hi":300000,"y":260000},
{"ds":"2018-09-29","yhat":167000,"lo":129000,"hi":205000,"y":150000},
{"ds":"2018-09-30","yhat":176000,"lo":138000,"hi":214000,"y":134000},
{"ds":"2018-10-01","yhat":335000,"lo":298000,"hi":372000,"y":372000},
{"ds":"2018-10-02","yhat":332000,"lo":295000,"hi":369000,"y":362000},
{"ds":"2018-10-03","yhat":327000,"lo":290000,"hi":364000,"y":346000},
{"ds":"2018-10-04","yhat":317000,"lo":280000,"hi":354000,"y":331000},
{"ds":"2018-10-05","yhat":274000,"lo":237000,"hi":311000,"y":266000},
{"ds":"2018-10-06","yhat":183000,"lo":146000,"hi":220000,"y":160000},
{"ds":"2018-10-07","yhat":192000,"lo":155000,"hi":229000,"y":138000},
{"ds":"2018-10-08","yhat":333000,"lo":295000,"hi":371000,"y":360000},
{"ds":"2018-10-09","yhat":330000,"lo":292000,"hi":368000,"y":343000},
{"ds":"2018-10-10","yhat":325000,"lo":287000,"hi":363000,"y":331000},
{"ds":"2018-10-11","yhat":315000,"lo":277000,"hi":353000,"y":333000},
{"ds":"2018-10-12","yhat":272000,"lo":234000,"hi":310000,"y":302000},
{"ds":"2018-10-13","yhat":180000,"lo":142000,"hi":218000,"y":151000},
{"ds":"2018-10-14","yhat":189000,"lo":151000,"hi":227000,"y":128000},
{"ds":"2018-10-15","yhat":313000,"lo":276000,"hi":350000,"y":322000},
{"ds":"2018-10-16","yhat":310000,"lo":273000,"hi":347000,"y":311000},
{"ds":"2018-10-17","yhat":306000,"lo":269000,"hi":343000,"y":309000},
{"ds":"2018-10-18","yhat":295000,"lo":258000,"hi":332000,"y":296000},
{"ds":"2018-10-19","yhat":253000,"lo":216000,"hi":290000,"y":250000},
{"ds":"2018-10-20","yhat":163000,"lo":126000,"hi":200000,"y":118000},
{"ds":"2018-10-21","yhat":172000,"lo":135000,"hi":209000,"y":134000},
{"ds":"2018-10-22","yhat":301000,"lo":263000,"hi":339000,"y":309000},
{"ds":"2018-10-23","yhat":298000,"lo":260000,"hi":336000,"y":296000},
{"ds":"2018-10-24","yhat":294000,"lo":256000,"hi":332000,"y":293000},
{"ds":"2018-10-25","yhat":283000,"lo":245000,"hi":321000,"y":285000},
{"ds":"2018-10-26","yhat":241000,"lo":203000,"hi":279000,"y":262000},
{"ds":"2018-10-27","yhat":151000,"lo":113000,"hi":189000,"y":129000},
{"ds":"2018-10-28","yhat":160000,"lo":122000,"hi":198000,"y":114000},
{"ds":"2018-10-29","yhat":291000,"lo":254000,"hi":328000,"y":303000},
{"ds":"2018-10-30","yhat":288000,"lo":251000,"hi":325000,"y":301000},
{"ds":"2018-10-31","yhat":284000,"lo":247000,"hi":321000,"y":291000},
{"ds":"2018-11-01","yhat":273000,"lo":236000,"hi":310000,"y":280000},
{"ds":"2018-11-02","yhat":232000,"lo":195000,"hi":269000,"y":230000},
{"ds":"2018-11-03","yhat":143000,"lo":106000,"hi":180000,"y":123000},
{"ds":"2018-11-04","yhat":152000,"lo":115000,"hi":189000,"y":131000},
{"ds":"2018-11-05","yhat":293000,"lo":255000,"hi":331000,"y":302000},
{"ds":"2018-11-06","yhat":290000,"lo":252000,"hi":328000,"y":304000},
{"ds":"2018-11-07","yhat":285000,"lo":247000,"hi":323000,"y":289000},
{"ds":"2018-11-08","yhat":274000,"lo":236000,"hi":312000,"y":285000},
{"ds":"2018-11-09","yhat":230000,"lo":192000,"hi":268000,"y":222000},
{"ds":"2018-11-10","yhat":136000,"lo":98000,"hi":174000,"y":116000},
{"ds":"2018-11-11","yhat":145000,"lo":107000,"hi":183000,"y":134000},
{"ds":"2018-11-12","yhat":282000,"lo":245000,"hi":319000,"y":300000},
{"ds":"2018-11-13","yhat":279000,"lo":242000,"hi":316000,"y":296000},
{"ds":"2018-11-14","yhat":275000,"lo":238000,"hi":312000,"y":285000},
{"ds":"2018-11-15","yhat":264000,"lo":227000,"hi":301000,"y":262000},
{"ds":"2018-11-16","yhat":222000,"lo":185000,"hi":259000,"y":236000},
{"ds":"2018-11-17","yhat":131000,"lo":94000,"hi":168000,"y":120000},
{"ds":"2018-11-18","yhat":140000,"lo":103000,"hi":177000,"y":113000},
{"ds":"2018-11-19","yhat":268000,"lo":230000,"hi":306000,"y":256000},
{"ds":"2018-11-20","yhat":265000,"lo":227000,"hi":303000,"y":224000},
{"ds":"2018-11-21","yhat":240000,"lo":202000,"hi":278000,"y":165000},
{"ds":"2018-11-22","yhat":76000,"lo":38000,"hi":114000,"y":53000},
{"ds":"2018-11-23","yhat":110000,"lo":72000,"hi":148000,"y":83000},
{"ds":"2018-11-24","yhat":120000,"lo":82000,"hi":158000,"y":97000},
{"ds":"2018-11-25","yhat":129000,"lo":91000,"hi":167000,"y":114000},
{"ds":"2018-11-26","yhat":256000,"lo":218000,"hi":294000,"y":276000},
{"ds":"2018-11-27","yhat":253000,"lo":215000,"hi":291000,"y":271000},
{"ds":"2018-11-28","yhat":249000,"lo":211000,"hi":287000,"y":265000},
{"ds":"2018-11-29","yhat":238000,"lo":200000,"hi":276000,"y":246000},
{"ds":"2018-11-30","yhat":197000,"lo":159000,"hi":235000,"y":202000},
{"ds":"2018-12-01","yhat":108000,"lo":69000,"hi":147000},
{"ds":"2018-12-02","yhat":117000,"lo":78000,"hi":156000},
{"ds":"2018-12-03","yhat":246000,"lo":206000,"hi":286000},
{"ds":"2018-12-04","yhat":243000,"lo":203000,"hi":283000},
{"ds":"2018-12-05","yhat":239000,"lo":199000,"hi":279000},
{"ds":"2018-12-06","yhat":228000,"lo":188000,"hi":268000},
{"ds":"2018-12-07","yhat":186000,"lo":146000,"hi":226000},
{"ds":"2018-12-08","yhat":96000,"lo":56000,"hi":136000},
{"ds":"2018-12-09","yhat":105000,"lo":65000,"hi":145000},
{"ds":"2018-12-10","yhat":238000,"lo":197000,"hi":279000},
{"ds":"2018-12-11","yhat":235000,"lo":194000,"hi":276000},
{"ds":"2018-12-12","yhat":230000,"lo":189000,"hi":271000},
{"ds":"2018-12-13","yhat":219000,"lo":178000,"hi":260000},
{"ds":"2018-12-14","yhat":173000,"lo":132000,"hi":214000},
{"ds":"2018-12-15","yhat":76000,"lo":35000,"hi":117000},
{"ds":"2018-12-16","yhat":86000,"lo":45000,"hi":127000},
{"ds":"2018-12-17","yhat":220000,"lo":177000,"hi":263000},
{"ds":"2018-12-18","yhat":217000,"lo":174000,"hi":260000},
{"ds":"2018-12-19","yhat":212000,"lo":169000,"hi":255000},
{"ds":"2018-12-20","yhat":200000,"lo":157000,"hi":243000},
{"ds":"2018-12-21","yhat":155000,"lo":112000,"hi":198000},
{"ds":"2018-12-22","yhat":57000,"lo":14000,"hi":100000},
{"ds":"2018-12-23","yhat":67000,"lo":24000,"hi":110000},
{"ds":"2018-12-24","yhat":200000,"lo":155000,"hi":245000},
{"ds":"2018-12-25","yhat":197000,"lo":152000,"hi":242000},
{"ds":"2018-12-26","yhat":193000,"lo":148000,"hi":238000},
{"ds":"2018-12-27","yhat":183000,"lo":138000,"hi":228000},
{"ds":"2018-12-28","yhat":145000,"lo":100000,"hi":190000},
{"ds":"2018-12-29","yhat":62000,"lo":17000,"hi":107000},
{"ds":"2018-12-30","yhat":70000,"lo":25000,"hi":115000}
]},
"encoding": {
  "x": {"field": "ds", "type": "temporal", "title": "ds",
    "scale": {"type": "utc", "domain": [{"year": 2017, "month": 5, "date": 3, "hours": 4, "utc": true}, {"year": 2019, "month": 1, "date": 27, "hours": 20, "utc": true}]},
    "axis": {"labelExpr": "utcFormat(datum.value, '%Y-%m')", "labelPadding": 3.5, "titlePadding": 3, "grid": true,
      "values": [{"year": 2017, "month": 6, "date": 1, "utc": true}, {"year": 2017, "month": 8, "date": 1, "utc": true}, {"year": 2017, "month": 10, "date": 1, "utc": true}, {"year": 2017, "month": 12, "date": 1, "utc": true}, {"year": 2018, "month": 2, "date": 1, "utc": true}, {"year": 2018, "month": 4, "date": 1, "utc": true}, {"year": 2018, "month": 6, "date": 1, "utc": true}, {"year": 2018, "month": 8, "date": 1, "utc": true}, {"year": 2018, "month": 10, "date": 1, "utc": true}, {"year": 2018, "month": 12, "date": 1, "utc": true}]}}
},
"layer": [
  {"transform": [{"filter": "isValid(datum.y)"}],
   "mark": {"type": "circle", "size": 14, "color": "#000000", "opacity": 1},
   "encoding": {"y": {"field": "y", "type": "quantitative", "title": "y",
     "scale": {"domain": [-42300, 401900], "nice": false, "zero": false},
     "axis": {"values": [0, 50000, 100000, 150000, 200000, 250000, 300000, 350000, 400000], "format": "d", "labelPadding": 3.5, "titlePadding": 8, "grid": true}}}},
  {"mark": {"type": "line", "color": "#0072B2", "strokeWidth": 1.5},
   "encoding": {"y": {"field": "yhat", "type": "quantitative", "title": "y"}}},
  {"mark": {"type": "area", "color": "#0072B2", "opacity": 0.2},
   "encoding": {"y": {"field": "lo", "type": "quantitative", "title": "y"}, "y2": {"field": "hi"}}}
]
}
